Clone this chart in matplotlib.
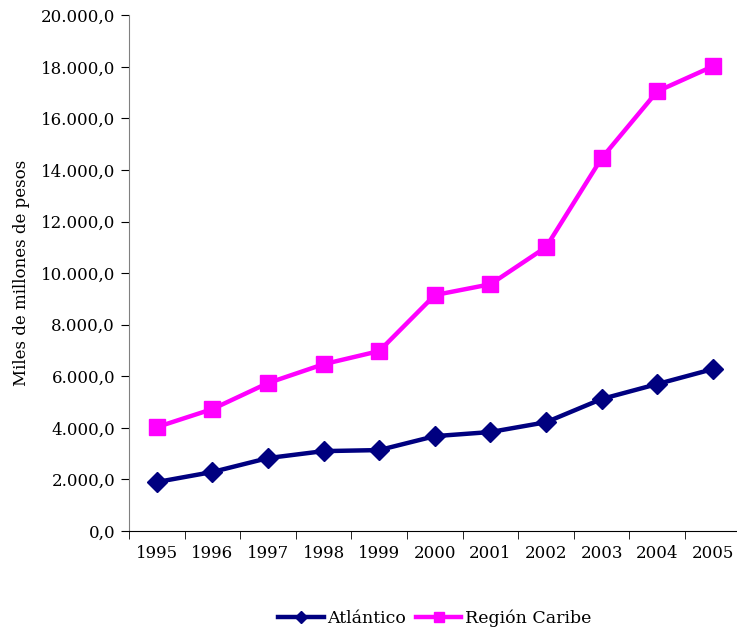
import matplotlib.pyplot as plt
import numpy as np
from matplotlib.ticker import FuncFormatter, FixedLocator

plt.rcParams["font.family"] = ["DejaVu Serif"]

years = ["1995", "1996", "1997", "1998", "1999", "2000", "2001", "2002", "2003", "2004", "2005"]
atlantico = [1900, 2290, 2830, 3100, 3140, 3680, 3840, 4220, 5120, 5700, 6280]
region_caribe = [4030, 4730, 5740, 6470, 6980, 9150, 9570, 11010, 14460, 17050, 18020]


def es_format(v, pos):
    s = "{:,.1f}".format(v)
    return s.replace(",", "X").replace(".", ",").replace("X", ".")


fig = plt.figure(figsize=(7.37, 6.36), dpi=100)
ax = fig.add_axes([0.175, 0.165, 0.83, 0.811])

x = np.arange(len(years))
ax.plot(x, atlantico, color="#000080", lw=3.2, marker="D", ms=10, label="Atlántico")
ax.plot(x, region_caribe, color="#FF00FF", lw=3.2, marker="s", ms=11, label="Región Caribe")

ax.set_xlim(-0.5, len(years) - 0.5)
ax.set_ylim(0, 20000)
ax.set_yticks(np.arange(0, 20001, 2000))
ax.yaxis.set_major_formatter(FuncFormatter(es_format))
ax.set_xticks(x)
ax.set_xticklabels(years)
ax.xaxis.set_minor_locator(FixedLocator(np.arange(-0.5, len(years), 1)))
ax.tick_params(axis="x", which="major", length=0, pad=10, labelsize=12)
ax.tick_params(axis="x", which="minor", length=6, direction="out")
ax.tick_params(axis="y", length=6, direction="out", labelsize=12, pad=4)

ax.spines["top"].set_visible(False)
ax.spines["right"].set_visible(False)
ax.spines["left"].set_color("#808080")

ax.set_ylabel("Miles de millones de pesos", fontsize=12, labelpad=8)

fig.legend(loc="lower center", bbox_to_anchor=(0.59, -0.01), ncol=2, frameon=False,
           fontsize=12.5, handlelength=2.6, columnspacing=0.6, handletextpad=0.2,
           markerscale=0.65)

fig.savefig("out.png", dpi=100)
